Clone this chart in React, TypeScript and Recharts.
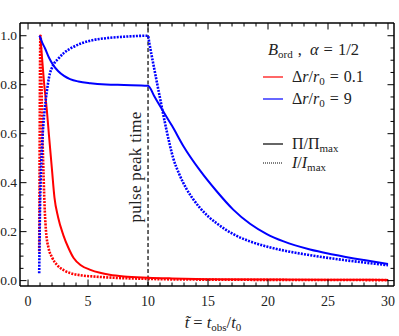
import React from 'react';
import { LineChart, Line, XAxis, YAxis, ReferenceLine, Customized } from 'recharts';

// t~ values and normalised curves
const redSolidT = [0.95, 1.0, 1.1, 1.2, 1.35, 1.56, 1.75, 2.0, 2.2, 2.5, 2.94, 3.4, 3.8, 4.4, 5.2, 6.0, 6.8, 8.0, 10, 12, 15, 20, 25, 30];
const redSolidV = [1.0, 1.0, 0.95, 0.89, 0.8, 0.7, 0.59, 0.45, 0.34, 0.26, 0.186, 0.13, 0.092, 0.063, 0.044, 0.032, 0.024, 0.017, 0.012, 0.009, 0.006, 0.0045, 0.0035, 0.003];

const redDotT = [0.93, 0.96, 0.99, 1.02, 1.05, 1.1, 1.2, 1.3, 1.4, 1.5, 1.7, 2.0, 2.4, 3.0, 3.5, 4.5, 5.7, 7.0, 8.5, 10, 12, 15, 20, 25, 30];
const redDotV = [0.12, 0.45, 0.8, 0.98, 1.0, 0.86, 0.6, 0.42, 0.28, 0.2, 0.135, 0.095, 0.065, 0.042, 0.031, 0.021, 0.016, 0.012, 0.009, 0.007, 0.005, 0.004, 0.003, 0.0025, 0.002];

const blueSolidT = [0.93, 1.0, 1.2, 1.42, 1.75, 2.1, 2.5, 3.0, 3.5, 4.2, 5.2, 6.5, 8.0, 10, 10.5, 11, 11.5, 12, 12.94, 14.33, 15.72, 17.1, 18.5, 19.9, 21.3, 23.5, 25.4, 28, 30];
const blueSolidV = [1.0, 0.995, 0.97, 0.948, 0.91, 0.88, 0.856, 0.836, 0.823, 0.813, 0.806, 0.801, 0.799, 0.796, 0.755, 0.713, 0.672, 0.632, 0.55, 0.45, 0.365, 0.29, 0.232, 0.19, 0.16, 0.127, 0.107, 0.084, 0.068];

const blueDotT = [0.93, 0.96, 1.0, 1.05, 1.1, 1.2, 1.35, 1.56, 1.75, 2.1, 2.5, 3.0, 3.8, 5.2, 6.5, 8.0, 10, 10.1, 10.5, 11, 11.56, 12.1, 12.6, 13.2, 13.8, 14.33, 15, 15.72, 17.1, 18.5, 19.9, 21.3, 23.5, 25.4, 28, 30];
const blueDotV = [0.03, 0.15, 0.3, 0.4, 0.48, 0.58, 0.68, 0.77, 0.83, 0.88, 0.905, 0.93, 0.955, 0.98, 0.99, 0.996, 1.0, 0.972, 0.87, 0.745, 0.61, 0.5, 0.435, 0.375, 0.33, 0.297, 0.263, 0.234, 0.19, 0.16, 0.139, 0.123, 0.104, 0.09, 0.074, 0.063];

const xTicks = Array.from({ length: 31 }, (_, i) => i);
const yTicks = Array.from({ length: 21 }, (_, i) => Math.round(i * 5) / 100);
const xMajor = [0, 5, 10, 15, 20, 25, 30];
const yMajor = [0, 0.2, 0.4, 0.6, 0.8, 1.0];

const peakT = 10;

const zip = (t: number[], v: number[]) => t.map((x, i) => ({ t: x, y: v[i] }));

const SERIF = '"Liberation Serif", serif';

const isMajorX = (v: number) => xMajor.includes(v);
const isMajorY = (v: number) => yMajor.some((m) => Math.abs(m - v) < 1e-6);

const BottomTick = ({ x, y, payload }: any) => {
  const major = isMajorX(payload.value);
  return (
    <g>
      <line x1={x} x2={x} y1={y} y2={y - (major ? 6.5 : 3.5)} stroke="#000" strokeWidth={1} />
      {major && (
        <text x={x} y={y + 20} textAnchor="middle" fontFamily={SERIF} fontSize={14} fill="#222">
          {payload.value}
        </text>
      )}
    </g>
  );
};

const TopTick = ({ x, y, payload }: any) => {
  const major = isMajorX(payload.value);
  return <line x1={x} x2={x} y1={y} y2={y + (major ? 6.5 : 3.5)} stroke="#000" strokeWidth={1} />;
};

const LeftTick = ({ x, y, payload }: any) => {
  const major = isMajorY(payload.value);
  return (
    <g>
      <line x1={x} x2={x + (major ? 6.5 : 3.5)} y1={y} y2={y} stroke="#000" strokeWidth={1} />
      {major && (
        <text x={x - 3} y={y + 4.5} textAnchor="end" fontFamily={SERIF} fontSize={13.5} fill="#222">
          {payload.value.toFixed(1)}
        </text>
      )}
    </g>
  );
};

const RightTick = ({ x, y, payload }: any) => {
  const major = isMajorY(payload.value);
  return <line x1={x} x2={x - (major ? 6.5 : 3.5)} y1={y} y2={y} stroke="#000" strokeWidth={1} />;
};

const PeakLabel = ({ viewBox }: any) => {
  const cx = viewBox.x - 7;
  const cy = 167;
  return (
    <text x={cx} y={cy} transform={`rotate(-90, ${cx}, ${cy})`} textAnchor="middle" fontFamily={SERIF} fontSize={17} fill="#222" letterSpacing={0.3}>
      pulse peak time
    </text>
  );
};

const Annotations = () => {
  const tx = 292;
  return (
    <g fontFamily={SERIF} fill="#222">
      <text x={268} y={55} fontSize={16.5}>
        <tspan fontStyle="italic">B</tspan>
        <tspan fontSize={11} dy={3}>ord</tspan>
        <tspan dy={-3} dx={5}>,</tspan>
        <tspan fontStyle="italic" dx={8}>α</tspan>
        <tspan dx={5}>=</tspan>
        <tspan dx={5}>1/2</tspan>
      </text>

      <line x1={263} x2={283} y1={77} y2={77} stroke="#ff0000" strokeWidth={1.2} />
      <text x={tx} y={82} fontSize={16}>
        <tspan>Δ</tspan>
        <tspan fontStyle="italic">r</tspan>
        <tspan>/</tspan>
        <tspan fontStyle="italic">r</tspan>
        <tspan fontSize={11} dy={3}>0</tspan>
        <tspan dy={-3} dx={5}>=</tspan>
        <tspan dx={5}>0.1</tspan>
      </text>

      <line x1={263} x2={283} y1={99} y2={99} stroke="#0000ff" strokeWidth={1.2} />
      <text x={tx} y={104} fontSize={16}>
        <tspan>Δ</tspan>
        <tspan fontStyle="italic">r</tspan>
        <tspan>/</tspan>
        <tspan fontStyle="italic">r</tspan>
        <tspan fontSize={11} dy={3}>0</tspan>
        <tspan dy={-3} dx={5}>=</tspan>
        <tspan dx={5}>9</tspan>
      </text>

      <line x1={263} x2={283} y1={144} y2={144} stroke="#000" strokeWidth={1.2} />
      <text x={tx} y={149} fontSize={16}>
        <tspan>Π/Π</tspan>
        <tspan fontSize={11} dy={3}>max</tspan>
      </text>

      <line x1={263} x2={283} y1={163} y2={163} stroke="#000" strokeWidth={1.2} strokeDasharray="1 1" />
      <text x={tx} y={168} fontSize={16}>
        <tspan fontStyle="italic">I</tspan>
        <tspan>/</tspan>
        <tspan fontStyle="italic">I</tspan>
        <tspan fontSize={11} dy={3}>max</tspan>
      </text>

      <text x={213} y={328} fontSize={16.5} textAnchor="middle">
        <tspan fontStyle="italic">t̃</tspan>
        <tspan dx={4}>=</tspan>
        <tspan fontStyle="italic" dx={4}>t</tspan>
        <tspan fontSize={11} dy={3}>obs</tspan>
        <tspan dy={-3}>/</tspan>
        <tspan fontStyle="italic">t</tspan>
        <tspan fontSize={11} dy={3}>0</tspan>
      </text>
    </g>
  );
};

export default function App() {
  const domainX: [number, number] = [-0.67, 30.5];
  const domainY: [number, number] = [-0.022, 1.052];
  const axisLine = { stroke: '#000', strokeWidth: 1.5 };

  return (
    <div style={{ position: 'absolute', left: 0, top: 0, background: '#fff' }}>
      <LineChart width={399} height={336} margin={{ top: 0, right: 0, bottom: 0, left: 0 }}>
        <XAxis xAxisId="b" type="number" dataKey="t" domain={domainX} allowDataOverflow ticks={xTicks} interval={0}
          height={50} tickSize={0} tickMargin={0} tickLine={false} axisLine={axisLine} tick={<BottomTick />} />
        <XAxis xAxisId="top" orientation="top" type="number" dataKey="t" domain={domainX} allowDataOverflow ticks={xTicks} interval={0}
          height={23} tickSize={0} tickMargin={0} tickLine={false} axisLine={axisLine} tick={<TopTick />} />
        <YAxis yAxisId="l" type="number" domain={domainY} allowDataOverflow ticks={yTicks} interval={0}
          width={20} tickSize={0} tickMargin={0} tickLine={false} axisLine={axisLine} tick={<LeftTick />} />
        <YAxis yAxisId="r" orientation="right" type="number" domain={domainY} allowDataOverflow ticks={yTicks} interval={0}
          width={5} tickSize={0} tickMargin={0} tickLine={false} axisLine={axisLine} tick={<RightTick />} />

        <ReferenceLine xAxisId="b" yAxisId="l" x={peakT} stroke="#000" strokeWidth={1.2} strokeDasharray="4 2.5" label={<PeakLabel />} />

        <Line xAxisId="b" yAxisId="l" data={zip(redSolidT, redSolidV)} dataKey="y" type="monotone" stroke="#ff0000" strokeWidth={2} dot={false} isAnimationActive={false} />
        <Line xAxisId="b" yAxisId="l" data={zip(redDotT, redDotV)} dataKey="y" type="monotone" stroke="#ff0000" strokeWidth={2.6} strokeDasharray="2 1.2" dot={false} isAnimationActive={false} />
        <Line xAxisId="b" yAxisId="l" data={zip(blueSolidT, blueSolidV)} dataKey="y" type="monotone" stroke="#0000ff" strokeWidth={2} dot={false} isAnimationActive={false} />
        <Line xAxisId="b" yAxisId="l" data={zip(blueDotT, blueDotV)} dataKey="y" type="monotone" stroke="#0000ff" strokeWidth={2.6} strokeDasharray="2 1.2" dot={false} isAnimationActive={false} />

        <Customized component={Annotations} />
      </LineChart>
    </div>
  );
}
